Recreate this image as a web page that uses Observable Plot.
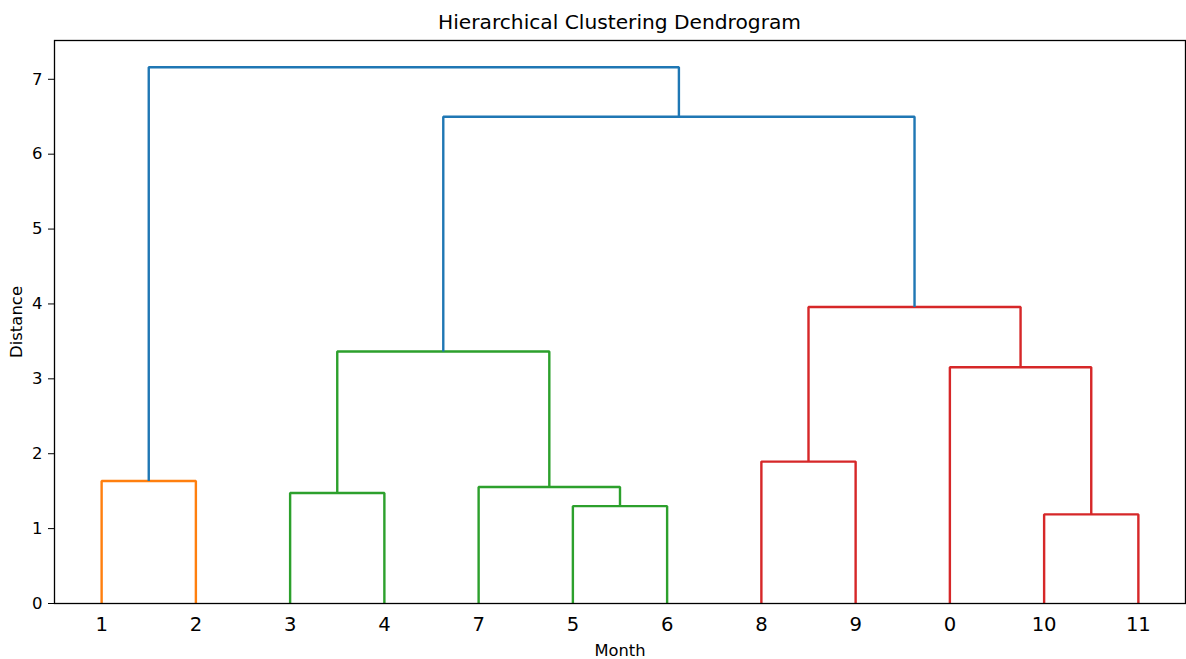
<!DOCTYPE html>
<html>
<head>
<meta charset="utf-8">
<script src="https://cdn.jsdelivr.net/npm/d3@7"></script>
<script src="https://cdn.jsdelivr.net/npm/@observablehq/plot@0.6"></script>
<style>
  body { margin: 0; background: #fff; color: #000; font-family: "DejaVu Sans", sans-serif; }
  #title { position: relative; width: 1186px; height: 36px; }
  #title span { position: absolute; left: 54px; width: 1131px; top: 10px; line-height: 24px;
                text-align: center; font-size: 20.2px; }
  #chart svg { display: block; background: transparent; }
</style>
</head>
<body>
<div id="title"><span>Hierarchical Clustering Dendrogram</span></div>
<div id="chart"></div>
<script>
// Leaves are months 0..11; merged clusters get ids 12, 13, ... in merge order.
const monthLabels = ["0", "1", "2", "3", "4", "5", "6", "7", "8", "9", "10", "11"];
const mergeLeft   = [10, 5, 3, 7, 1, 8, 0, 14, 17, 19, 16];
const mergeRight  = [11, 6, 4, 13, 2, 9, 12, 15, 18, 20, 21];
const mergeHeight = [1.19, 1.30, 1.475, 1.555, 1.635, 1.895, 3.155, 3.365, 3.96, 6.50, 7.16];
const palette = ["#1f77b4", "#ff7f0e", "#2ca02c", "#d62728"];

const n = monthLabels.length;
const root = n + mergeHeight.length - 1;
const maxHeight = d3.max(mergeHeight);
const threshold = 0.7 * maxHeight;

// Walk the tree left to right: leaves sit at 5, 15, 25, ... and each node is centred over its children.
const nodeX = new Map();
const nodeY = new Map();
const leafOrder = [];
function place(id) {
  if (id < n) {
    nodeX.set(id, 5 + 10 * leafOrder.length);
    nodeY.set(id, 0);
    leafOrder.push(id);
    return;
  }
  const k = id - n;
  place(mergeLeft[k]);
  place(mergeRight[k]);
  nodeX.set(id, (nodeX.get(mergeLeft[k]) + nodeX.get(mergeRight[k])) / 2);
  nodeY.set(id, mergeHeight[k]);
}
place(root);

// Subtrees below the threshold each get their own colour; links above it use the first colour.
const group = new Array(mergeHeight.length);
let nextGroup = 1;
function colour(id, inherited) {
  if (id < n) return;
  const k = id - n;
  let g = inherited;
  if (g == null) g = mergeHeight[k] < threshold ? nextGroup++ : 0;
  group[k] = g;
  colour(mergeLeft[k], g === 0 ? null : g);
  colour(mergeRight[k], g === 0 ? null : g);
}
colour(root, null);

// Each merge is drawn as an upside-down U from both children up to the merge height.
const rows = [];
mergeHeight.forEach((h, k) => {
  const l = mergeLeft[k], r = mergeRight[k];
  const pts = [[nodeX.get(l), nodeY.get(l)], [nodeX.get(l), h], [nodeX.get(r), h], [nodeX.get(r), nodeY.get(r)]];
  for (const [x, y] of pts) rows.push({x, y, link: k, group: group[k]});
});

const leafTicks = leafOrder.map(id => nodeX.get(id));
const leafName = new Map(leafOrder.map(id => [nodeX.get(id), monthLabels[id]]));

const chart = Plot.plot({
  width: 1186,
  height: 623,
  marginLeft: 54,
  marginRight: 1,
  marginTop: 4,
  marginBottom: 56,
  style: {fontFamily: "DejaVu Sans, sans-serif", color: "#000", background: "transparent"},
  x: {domain: [0, 10 * n]},
  y: {domain: [0, maxHeight * 1.05]},
  color: {type: "ordinal", domain: [0, 1, 2, 3], range: palette},
  marks: [
    Plot.line(rows, {x: "x", y: "y", z: "link", stroke: "group", strokeWidth: 2.4,
                     strokeLinejoin: "miter", strokeLinecap: "butt"}),
    Plot.frame({stroke: "#000", strokeWidth: 1.3}),
    Plot.axisY({ticks: d3.range(0, 8), tickSize: 6, tickPadding: 6, fontSize: 16.5,
                label: "Distance", labelAnchor: "center", labelArrow: "none", labelOffset: 44}),
    Plot.axisX({ticks: leafTicks, tickFormat: d => leafName.get(d), tickSize: 0, tickPadding: 14,
                fontSize: 19.6, label: null}),
    Plot.axisX({ticks: [], tickSize: 0, fontSize: 16.3, label: "Month", labelAnchor: "center",
                labelArrow: "none", labelOffset: 52})
  ]
});
document.getElementById("chart").append(chart);
</script>
</body>
</html>
